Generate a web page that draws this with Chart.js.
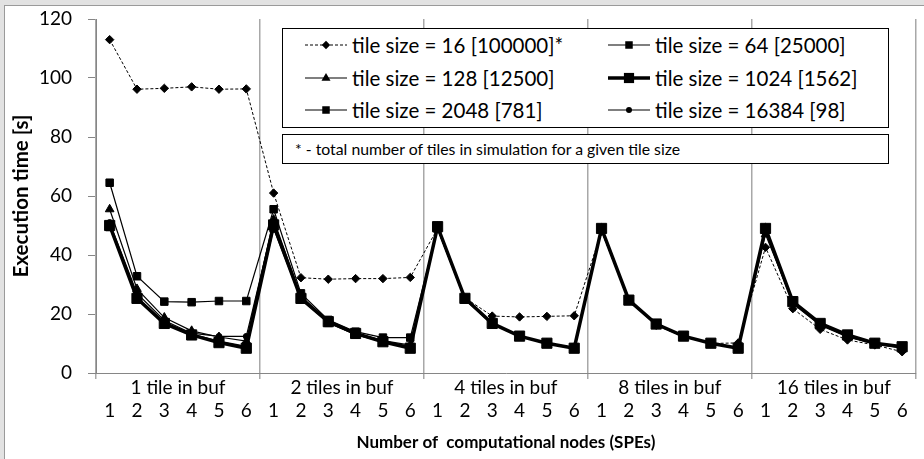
<!DOCTYPE html>
<html>
<head>
<meta charset="utf-8">
<script src="https://cdn.jsdelivr.net/npm/chart.js@4/dist/chart.umd.min.js"></script>
<style>
  html, body { margin: 0; padding: 0; }
  body { width: 924px; height: 459px; background: #e2e2e2; position: relative; overflow: hidden; font-family: Lato, "Open Sans", sans-serif; }
  #frame { position: absolute; left: 4px; top: 5px; width: 940px; height: 470px; background: #fff; border: 1px solid #9a9a9a; }
  #c { position: absolute; left: 0; top: 0; }
  .box { position: absolute; border: 1px solid #000; background: #fff; box-sizing: border-box; }
  #legend { left: 282px; top: 28px; width: 607px; height: 100px; }
  .item { position: absolute; height: 24px; display: flex; align-items: center; font-size: 20.5px; color: #000; white-space: nowrap; }
  .item svg { margin-right: 5px; }
  #note { left: 282px; top: 134px; width: 607px; height: 30px; font-size: 15.8px; color: #000; line-height: 28px; padding-left: 12px; white-space: nowrap; }
</style>
</head>
<body>
<div id="frame"></div>
<canvas id="c" width="924" height="459"></canvas>
<div id="legend" class="box"></div>
<div id="note" class="box">* - total number of tiles in simulation for a given tile size</div>
<script>
// ---- data ----
const groupLabels = ['1 tile in buf', '2 tiles in buf', '4 tiles in buf', '8 tiles in buf', '16 tiles in buf'];
const nodeLabels = ['1','2','3','4','5','6','1','2','3','4','5','6','1','2','3','4','5','6','1','2','3','4','5','6','1','2','3','4','5','6'];
const seriesNames = ['tile size = 16 [100000]*', 'tile size = 64 [25000]', 'tile size = 128 [12500]', 'tile size = 1024 [1562]', 'tile size = 2048 [781]', 'tile size = 16384 [98]'];
const tile16 = [113, 96.2, 96.5, 97, 96.2, 96.3, 61, 32.3, 31.8, 32, 32, 32.4, 49, 25.5, 19.3, 19, 19.2, 19.4, 48, 24.5, 16.2, 12.3, 10, 10.2, 42.6, 21.8, 14.8, 11.2, 9.5, 7.2];
const tile64 = [64.5, 32.8, 24.2, 24, 24.4, 24.4, 55.5, 27, 18, 14, 12, 12, 49, 25.3, 16.8, 12.5, 10.1, 8.6, 49, 24.8, 16.6, 12.5, 10.1, 8.6, 48.5, 24.5, 16.8, 12.8, 10.2, 8.8];
const tile128 = [55.5, 28.5, 18.8, 14.3, 12.2, 10.8, 52, 26, 17.5, 13.5, 11, 9.5, 49, 25, 16.5, 12.5, 10, 8.5, 48.5, 24.5, 16.5, 12.3, 10, 8.5, 47, 24, 16.5, 12.3, 10, 8.5];
const tile1024 = [50, 25.3, 16.8, 12.9, 10.3, 8.4, 50.2, 25.3, 17.4, 13.4, 10.6, 8.4, 49.6, 25.3, 16.8, 12.5, 10.1, 8.4, 49, 24.7, 16.6, 12.5, 10.1, 8.4, 49, 24.2, 16.8, 12.9, 10.1, 8.9];
const tile2048 = [49.5, 25.5, 17.2, 13.2, 10.8, 9, 49, 25, 17, 13, 10.5, 8.8, 49, 25, 16.6, 12.6, 10.1, 8.5, 49, 24.5, 16.5, 12.4, 10, 8.4, 48.5, 24.3, 16.5, 12.6, 10, 8.7];
const tile16384 = [51, 27, 17.8, 13.5, 12.4, 12.4, 51, 25.5, 17.2, 13, 10.8, 9, 49, 25, 16.5, 12.5, 10, 8.5, 49, 24.5, 16.3, 12.3, 10, 8.3, 48, 23.5, 16.2, 12.2, 9.8, 8.5];
const yTicks = [0, 20, 40, 60, 80, 100, 120];

// ---- styles ----
const styles = [
  {pointStyle: 'rectRot', pointRadius: 4.2, borderWidth: 1, borderDash: [3, 2]},
  {pointStyle: 'rect', pointRadius: 5.3, borderWidth: 1.2, borderDash: []},
  {pointStyle: 'triangle', pointRadius: 5, borderWidth: 1.2, borderDash: []},
  {pointStyle: 'rect', pointRadius: 7.2, borderWidth: 3.5, borderDash: []},
  {pointStyle: 'rect', pointRadius: 5.3, borderWidth: 1.2, borderDash: []},
  {pointStyle: 'circle', pointRadius: 3, borderWidth: 1.2, borderDash: []}
];
const seriesData = [tile16, tile64, tile128, tile1024, tile2048, tile16384];

const datasets = seriesData.map((d, i) => ({
  label: seriesNames[i],
  data: d,
  xAxisID: 'x',
  yAxisID: 'y',
  borderColor: '#000',
  backgroundColor: '#000',
  pointBackgroundColor: '#000',
  pointBorderColor: '#000',
  pointBorderWidth: 1,
  borderWidth: styles[i].borderWidth,
  borderDash: styles[i].borderDash,
  pointStyle: styles[i].pointStyle,
  pointRadius: styles[i].pointRadius,
  tension: 0,
  fill: false,
  clip: false
}));

const tickFont = {family: 'Lato', size: 19};
const groupFont = {family: 'Lato', size: 19};
const xTitleFont = {family: 'Lato', size: 17, weight: 'bold'};
const yTitleFont = {family: 'Lato', size: 20.5, weight: 'bold'};

new Chart(document.getElementById('c'), {
  type: 'line',
  data: {labels: nodeLabels, datasets},
  options: {
    responsive: false,
    animation: false,
    events: [],
    layout: {padding: {left: 8, top: 19, right: 6, bottom: 4}},
    plugins: {legend: {display: false}, tooltip: {enabled: false}},
    scales: {
      y: {
        min: 0, max: 120,
        afterBuildTicks: s => { s.ticks = yTicks.map(v => ({value: v})); },
        ticks: {padding: 16, color: '#000', font: tickFont},
        grid: {drawOnChartArea: false, tickLength: 8, color: '#868686'},
        border: {color: '#868686'},
        title: {display: true, text: 'Execution time [s]', color: '#000', font: yTitleFont, padding: {top: 1, bottom: 0}},
        afterFit: s => { s.width = 88; s.paddingTop = 0; s.paddingBottom = 0; }
      },
      xg: {
        type: 'category',
        labels: groupLabels,
        position: 'bottom',
        weight: 0,
        offset: true,
        grid: {offset: true, drawOnChartArea: true, tickLength: 6, color: '#a8a8a8', lineWidth: 1.5},
        border: {color: '#868686'},
        ticks: {padding: -3, color: '#000', font: groupFont, maxRotation: 0, autoSkip: false},
        afterFit: s => { s.height = 22; s.paddingLeft = 0; s.paddingRight = 0; }
      },
      x: {
        type: 'category',
        position: 'bottom',
        weight: 1,
        offset: true,
        grid: {display: false, drawTicks: false},
        border: {display: false},
        ticks: {padding: 4, color: '#000', font: tickFont, maxRotation: 0, autoSkip: false},
        title: {display: true, text: 'Number of  computational nodes (SPEs)', color: '#000', font: xTitleFont, padding: {top: 0, bottom: 2}},
        afterFit: s => { s.height = 60; s.paddingLeft = 0; s.paddingRight = 0; }
      }
    }
  }
});

// ---- legend (HTML) ----
function sampleSvg(i) {
  const st = styles[i];
  const w = 42, h = 16, cx = 21, cy = 8;
  let line = `<line x1="0" y1="${cy}" x2="${w}" y2="${cy}" stroke="#000" stroke-width="${st.borderWidth}" ${st.borderDash.length ? 'stroke-dasharray="3,2"' : ''}/>`;
  let m = '';
  const r = st.pointRadius;
  if (st.pointStyle === 'rectRot') m = `<polygon points="${cx},${cy-r} ${cx+r},${cy} ${cx},${cy+r} ${cx-r},${cy}" fill="#000"/>`;
  else if (st.pointStyle === 'rect') { const s = r * 1.414; m = `<rect x="${cx-s/2}" y="${cy-s/2}" width="${s}" height="${s}" fill="#000"/>`; }
  else if (st.pointStyle === 'triangle') m = `<polygon points="${cx},${cy-r} ${cx+r*0.9},${cy+r*0.55} ${cx-r*0.9},${cy+r*0.55}" fill="#000"/>`;
  else m = `<circle cx="${cx}" cy="${cy}" r="${r}" fill="#000"/>`;
  return `<svg width="${w}" height="${h}" viewBox="0 0 ${w} ${h}">${line}${m}</svg>`;
}
const legend = document.getElementById('legend');
const rowsY = [4, 37, 69];
const colsX = [22, 325];
seriesNames.forEach((n, i) => {
  const el = document.createElement('div');
  el.className = 'item';
  el.style.left = colsX[i % 2] + 'px';
  el.style.top = rowsY[Math.floor(i / 2)] + 'px';
  el.innerHTML = sampleSvg(i) + '<span>' + n + '</span>';
  legend.appendChild(el);
});
</script>
</body>
</html>
